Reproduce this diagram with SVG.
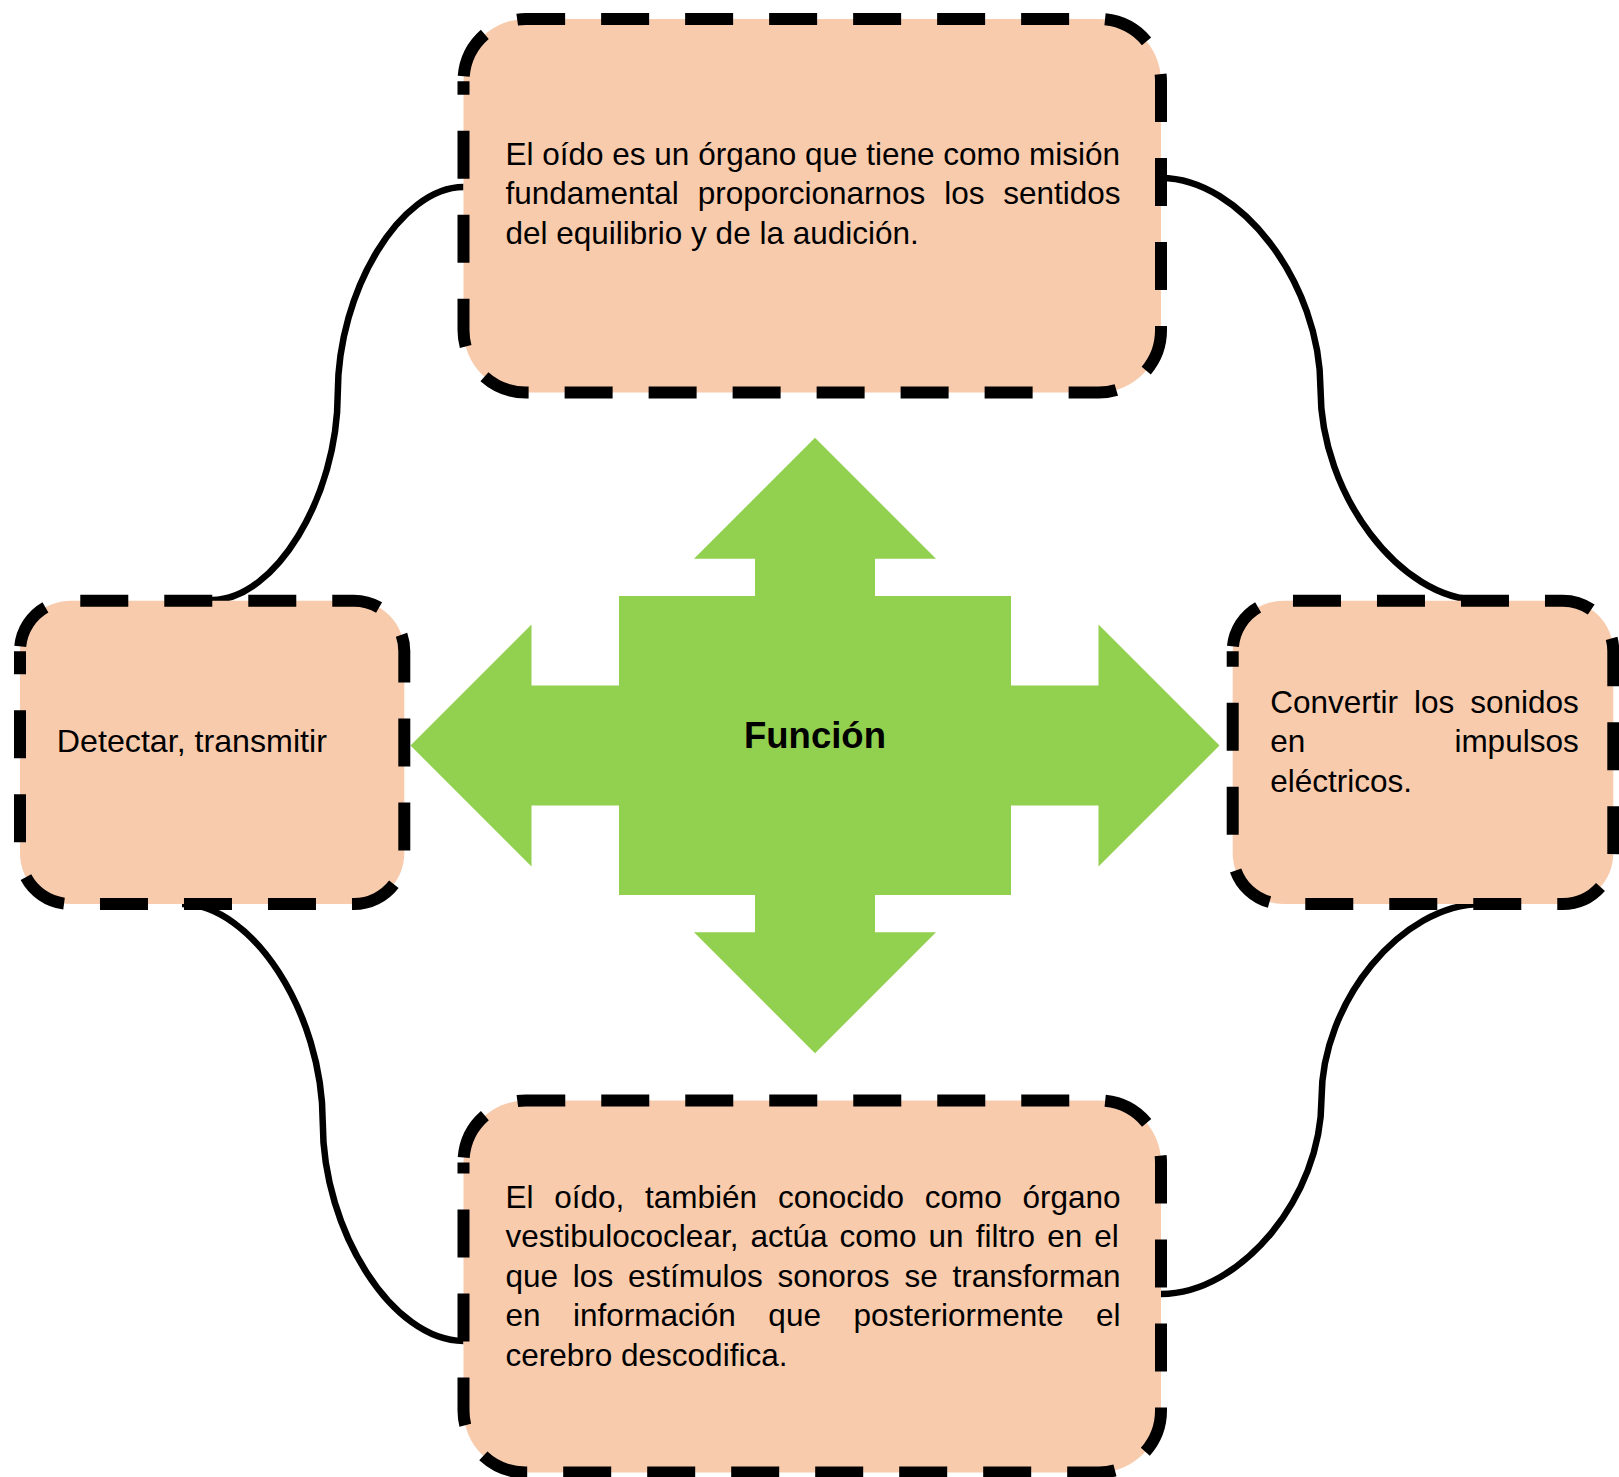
<svg xmlns="http://www.w3.org/2000/svg" width="1619" height="1477" viewBox="0 0 1619 1477">
<style>
.box{fill:#F8CBAD;stroke:#000;stroke-width:12;stroke-dasharray:48 36;stroke-dashoffset:-5;stroke-linecap:butt}
.con{fill:none;stroke:#000;stroke-width:6.5}
.t{font-family:"Liberation Sans",Arial,sans-serif;font-size:31.5px;fill:#000}
.hub{fill:#92D050}
.lbl{font-family:"Liberation Sans",Arial,sans-serif;font-size:36.5px;font-weight:bold;fill:#000}
</style>
<rect width="1619" height="1477" fill="#fff"/>
<g id="connectors">
<path class="con" d="M463.5,187 C400.6,187 337.75,290.25 337.75,393.5 C337.75,496.75 274.9,600 212,600"/>
<path class="con" d="M1161,178 C1240.75,178 1320.5,283.5 1320.5,389 C1320.5,494.5 1400.25,600 1480,600"/>
<path class="con" d="M182,904 C252.4,904 322.75,1013.25 322.75,1122.5 C322.75,1231.75 393.1,1341 463.5,1341"/>
<path class="con" d="M1482,904 C1401.75,904 1321.5,1001.5 1321.5,1099 C1321.5,1196.5 1241.25,1294 1161,1294"/>
</g>
<g id="hub">
<polygon class="hub" points="815,437.7 936,558.8 875,558.8 875,596 1011,596 1011,685.5 1098.5,685.5 1098.5,624.5 1219.5,745.5 1098.5,866.5 1098.5,805.5 1011,805.5 1011,895 875,895 875,932.2 936,932.2 815,1053.3 694,932.2 755,932.2 755,895 619,895 619,805.5 531.5,805.5 531.5,866.5 410.5,745.5 531.5,624.5 531.5,685.5 619,685.5 619,596 755,596 755,558.8 694,558.8"/>
<text class="lbl" x="815" y="748" text-anchor="middle">Función</text>
</g>
<g id="node-top">
<path class="box" d="M463.5,81.25 A62.25,62.25 0 0 1 525.75,19 H1098.75 A62.25,62.25 0 0 1 1161,81.25 V330.25 A62.25,62.25 0 0 1 1098.75,392.5 H525.75 A62.25,62.25 0 0 1 463.5,330.25 Z"/>
<text class="t" x="505.5" y="164.5">El oído es un órgano que tiene como misión</text>
<text class="t" x="505.5" y="204" word-spacing="10.07">fundamental proporcionarnos los sentidos</text>
<text class="t" x="505.5" y="243.5">del equilibrio y de la audición.</text>
</g>
<g id="node-left">
<path class="box" d="M20,651.25 A50.55,50.55 0 0 1 70.55,600.7 H353.75 A50.55,50.55 0 0 1 404.3,651.25 V853.45 A50.55,50.55 0 0 1 353.75,904 H70.55 A50.55,50.55 0 0 1 20,853.45 Z"/>
<text class="t" x="56.8" y="751.7" style="font-size:32.2px">Detectar, transmitir</text>
</g>
<g id="node-right">
<path class="box" d="M1232.7,651.25 A50.55,50.55 0 0 1 1283.25,600.7 H1562.75 A50.55,50.55 0 0 1 1613.3,651.25 V853.45 A50.55,50.55 0 0 1 1562.75,904 H1283.25 A50.55,50.55 0 0 1 1232.7,853.45 Z"/>
<text class="t" x="1270.2" y="712.7" word-spacing="7.2">Convertir los sonidos</text>
<text class="t" x="1270.2" y="752.2" word-spacing="140.4">en impulsos</text>
<text class="t" x="1270.2" y="791.7">eléctricos.</text>
</g>
<g id="node-bottom">
<path class="box" d="M463.5,1162.5 A62,62 0 0 1 525.5,1100.5 H1099 A62,62 0 0 1 1161,1162.5 V1410.5 A62,62 0 0 1 1099,1472.5 H525.5 A62,62 0 0 1 463.5,1410.5 Z"/>
<text class="t" x="505.5" y="1207.5" word-spacing="12">El oído, también conocido como órgano</text>
<text class="t" x="505.5" y="1247" word-spacing="3.28">vestibulococlear, actúa como un filtro en el</text>
<text class="t" x="505.5" y="1286.5" word-spacing="6.06">que los estímulos sonoros se transforman</text>
<text class="t" x="505.5" y="1326" word-spacing="23.75">en información que posteriormente el</text>
<text class="t" x="505.5" y="1365.5">cerebro descodifica.</text>
</g>
</svg>
